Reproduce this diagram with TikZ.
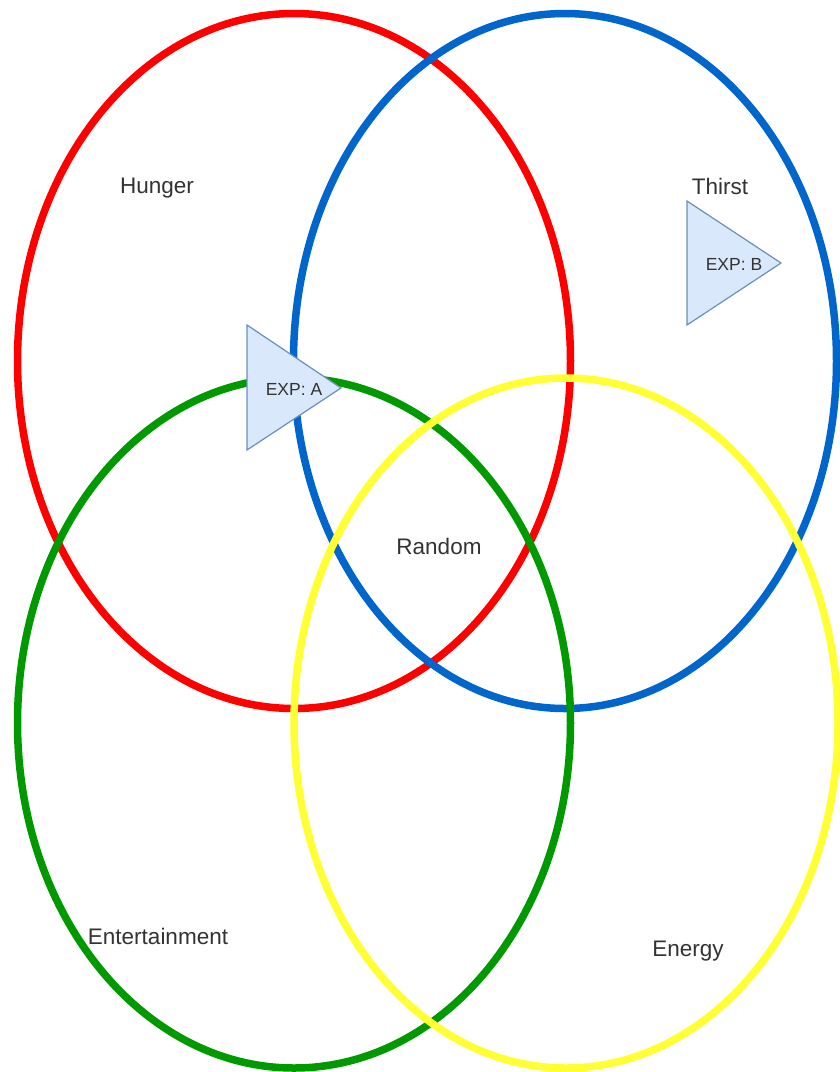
\documentclass[tikz,border=0pt]{standalone}
\usepackage{fontspec}
\setmainfont{Liberation Sans}
\usetikzlibrary{shapes.geometric}
\definecolor{cred}{HTML}{FF0000}
\definecolor{cblue}{HTML}{0066CC}
\definecolor{cgreen}{HTML}{009900}
\definecolor{cyellow}{HTML}{FFFF33}
\definecolor{trifill}{HTML}{DAE8FC}
\definecolor{tridraw}{HTML}{6C8EBF}
\definecolor{txt}{HTML}{333333}
\begin{document}
\begin{tikzpicture}[x=1pt,y=-1pt,
  ring/.style={draw, line width=7.5pt, ellipse, inner sep=0pt},
  lbl/.style={font=\fontsize{22.5}{26}\selectfont, text=txt, inner sep=0pt},
  exp/.style={font=\fontsize{17.5}{21}\selectfont, text=txt, inner sep=0pt},
  tri/.style={fill=trifill, draw=tridraw, line width=1.2pt, line join=miter}]
\useasboundingbox (0,0) rectangle (839,1072);
\fill[white] (0,0) rectangle (839,1072);
\node[ring, draw=cred, minimum width=553pt, minimum height=695pt] (hunger) at (294,361) {};
\node[ring, draw=cblue, minimum width=543pt, minimum height=695pt] (thirst) at (565,361) {};
\node[ring, draw=cgreen, minimum width=553pt, minimum height=690pt] (ent) at (294,723) {};
\node[ring, draw=cyellow, minimum width=544pt, minimum height=690pt] (energy) at (566,723) {};
% triangle A
\coordinate (a1) at (247,325);
\coordinate (a2) at (341,388);
\coordinate (a3) at (247,450);
\draw[tri] (a1) -- (a2) -- (a3) -- cycle;
\node[exp] (expa) at (294,389) {EXP: A};
% triangle B
\coordinate (b1) at (687,201);
\coordinate (b2) at (781,263);
\coordinate (b3) at (687,325);
\draw[tri] (b1) -- (b2) -- (b3) -- cycle;
\node[exp] (expb) at (734,264) {EXP: B};
% labels
\node[lbl] (lh) at (157,188) {Hunger};
\node[lbl] (lt) at (720,186) {Thirst};
\node[lbl] (lr) at (439,546) {Random};
\node[lbl] (le) at (158,936) {Entertainment};
\node[lbl] (ly) at (688,951) {Energy};
\end{tikzpicture}
\end{document}
